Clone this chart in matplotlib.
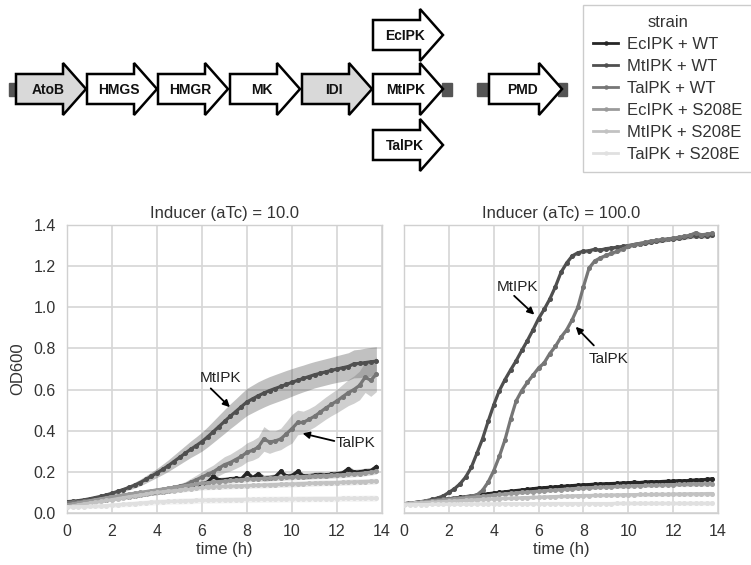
import matplotlib
matplotlib.use("Agg")
import matplotlib.pyplot as plt
from matplotlib.patches import Polygon, Rectangle
from matplotlib.lines import Line2D

plt.rcParams['font.family'] = ['Liberation Sans', 'DejaVu Sans']

# ---------------- data ----------------
TIME_H = [0.0, 0.25, 0.5, 0.75, 1.0, 1.25, 1.5, 1.75,
          2.0, 2.25, 2.5, 2.75, 3.0, 3.25, 3.5, 3.75,
          4.0, 4.25, 4.5, 4.75, 5.0, 5.25, 5.5, 5.75,
          6.0, 6.25, 6.5, 6.75, 7.0, 7.25, 7.5, 7.75,
          8.0, 8.25, 8.5, 8.75, 9.0, 9.25, 9.5, 9.75,
          10.0, 10.25, 10.5, 10.75, 11.0, 11.25, 11.5, 11.75,
          12.0, 12.25, 12.5, 12.75, 13.0, 13.25, 13.5, 13.75]

STRAINS = ["EcIPK + WT", "MtIPK + WT", "TalPK + WT",
           "EcIPK + S208E", "MtIPK + S208E", "TalPK + S208E"]
STRAIN_COLORS = ["#262626", "#4f4f4f", "#767676", "#9a9a9a", "#c2c2c2", "#e0e0e0"]
INDUCERS = [10.0, 100.0]

# Inducer (aTc) = 10.0
L_EC_WT = [.045, .047, .049, .052, .055, .058, .061, .065,
           .069, .072, .076, .080, .084, .088, .092, .096,
           .100, .104, .108, .112, .117, .122, .127, .133,
           .140, .150, .178, .160, .162, .165, .168, .166,
           .196, .172, .190, .170, .172, .176, .203, .178,
           .182, .202, .180, .181, .184, .186, .183, .188,
           .190, .195, .215, .198, .200, .204, .206, .225]
L_MT_WT = [.055, .057, .060, .064, .069, .075, .081, .088,
           .096, .105, .114, .124, .135, .148, .163, .179,
           .195, .212, .230, .250, .270, .290, .310, .328,
           .347, .370, .395, .420, .445, .470, .493, .517,
           .540, .555, .570, .583, .595, .605, .615, .625,
           .635, .645, .654, .663, .672, .679, .686, .693,
           .700, .706, .712, .725, .727, .731, .735, .738]
L_TA_WT = [.050, .052, .054, .057, .060, .063, .066, .069,
           .073, .077, .081, .085, .090, .094, .099, .104,
           .109, .114, .119, .124, .130, .137, .150, .162,
           .175, .188, .200, .218, .235, .245, .260, .275,
           .295, .305, .320, .360, .345, .350, .360, .385,
           .410, .440, .440, .455, .470, .490, .510, .528,
           .545, .565, .585, .600, .620, .660, .645, .675]
L_EC_S = [.040, .044, .049, .054, .059, .064, .069, .074,
          .079, .083, .088, .092, .096, .100, .104, .108,
          .112, .116, .120, .124, .128, .132, .136, .140,
          .144, .147, .150, .153, .155, .158, .160, .162,
          .164, .166, .167, .168, .170, .171, .172, .174,
          .175, .176, .177, .178, .180, .181, .182, .183,
          .185, .186, .188, .190, .192, .195, .198, .203]
L_MT_S = [.030, .034, .039, .044, .048, .052, .056, .061,
          .065, .070, .074, .079, .083, .087, .091, .096,
          .100, .103, .106, .109, .112, .115, .118, .121,
          .124, .126, .127, .128, .129, .130, .131, .132,
          .133, .134, .135, .136, .137, .138, .139, .140,
          .141, .142, .143, .144, .145, .146, .147, .147,
          .148, .149, .150, .151, .152, .153, .154, .155]
L_TA_S = [.030, .030, .031, .031, .032, .033, .034, .036,
          .038, .040, .042, .044, .046, .048, .050, .052,
          .054, .055, .056, .057, .058, .059, .060, .061,
          .062, .062, .063, .063, .064, .064, .065, .065,
          .066, .066, .066, .067, .067, .067, .068, .068,
          .068, .069, .069, .069, .070, .070, .070, .070,
          .070, .071, .071, .071, .071, .072, .072, .072]

# confidence half-widths (aTc = 10.0)
L_MT_WT_CI = [.004, .004, .005, .005, .006, .006, .007, .008,
              .009, .010, .011, .012, .014, .016, .018, .020,
              .022, .025, .028, .031, .034, .037, .040, .043,
              .046, .049, .052, .055, .058, .060, .062, .064,
              .066, .067, .068, .068, .068, .068, .068, .068,
              .067, .066, .065, .065, .064, .064, .064, .064,
              .065, .066, .067, .068, .069, .070, .070, .070]
L_TA_WT_CI = [.006, .006, .006, .006, .007, .007, .007, .007,
              .008, .008, .008, .009, .009, .009, .010, .010,
              .010, .011, .011, .012, .013, .015, .018, .022,
              .026, .030, .033, .036, .039, .041, .043, .045,
              .046, .048, .050, .060, .055, .050, .052, .060,
              .070, .060, .055, .052, .052, .053, .054, .055,
              .057, .060, .063, .066, .070, .074, .078, .085]
L_LOW_CI = [.006, .006, .006, .007, .007, .007, .008, .008,
            .008, .009, .009, .009, .010, .010, .010, .010,
            .011, .011, .011, .011, .012, .012, .012, .012,
            .012, .013, .013, .013, .013, .013, .013, .013,
            .013, .013, .013, .014, .014, .014, .014, .014,
            .014, .014, .014, .014, .014, .014, .014, .014,
            .014, .014, .014, .014, .014, .014, .014, .014]
L_TA_S_CI = [.008, .008, .009, .009, .010, .010, .011, .011,
             .012, .012, .012, .013, .013, .013, .013, .014,
             .014, .014, .014, .014, .015, .015, .015, .015,
             .015, .015, .015, .015, .015, .015, .015, .015,
             .015, .015, .015, .015, .015, .015, .015, .015,
             .015, .015, .015, .015, .015, .015, .015, .015,
             .015, .015, .015, .015, .015, .015, .015, .015]

# Inducer (aTc) = 100.0
R_EC_WT = [.045, .048, .051, .054, .057, .060, .063, .066,
           .069, .0725, .076, .0795, .083, .0865, .090, .0935,
           .097, .100, .103, .106, .109, .112, .115, .118,
           .121, .123, .125, .127, .129, .131, .133, .135,
           .137, .138, .140, .141, .142, .143, .144, .146,
           .147, .149, .148, .150, .152, .151, .153, .154,
           .155, .157, .156, .158, .160, .161, .163, .166]
R_MT_WT = [.045, .048, .051, .055, .060, .066, .073, .083,
           .100, .118, .142, .175, .222, .290, .360, .445,
           .525, .595, .648, .695, .740, .790, .838, .890,
           .945, .990, 1.040, 1.100, 1.170, 1.215, 1.250, 1.265,
           1.272, 1.275, 1.282, 1.278, 1.285, 1.288, 1.292, 1.296,
           1.300, 1.305, 1.310, 1.312, 1.318, 1.322, 1.325, 1.330,
           1.334, 1.336, 1.340, 1.345, 1.347, 1.346, 1.348, 1.350]
R_TA_WT = [.045, .048, .051, .054, .057, .060, .063, .066,
           .069, .072, .075, .078, .082, .088, .110, .150,
           .205, .275, .355, .455, .545, .595, .635, .670,
           .705, .730, .775, .810, .855, .890, .940, 1.000,
           1.100, 1.190, 1.225, 1.240, 1.252, 1.262, 1.272, 1.283,
           1.296, 1.305, 1.310, 1.315, 1.322, 1.325, 1.330, 1.332,
           1.336, 1.340, 1.345, 1.350, 1.362, 1.352, 1.355, 1.360]
R_EC_S = [.045, .047, .050, .052, .055, .057, .060, .062,
          .065, .067, .070, .072, .075, .078, .081, .084,
          .088, .090, .093, .095, .098, .100, .102, .104,
          .106, .108, .110, .112, .114, .116, .118, .120,
          .122, .123, .124, .126, .127, .128, .129, .130,
          .131, .132, .133, .134, .135, .136, .136, .137,
          .138, .139, .139, .140, .141, .141, .142, .143]
R_MT_S = [.045, .046, .048, .049, .051, .052, .054, .055,
          .057, .058, .060, .061, .063, .064, .066, .067,
          .069, .070, .071, .072, .073, .074, .075, .076,
          .077, .078, .079, .080, .081, .082, .083, .084,
          .085, .085, .086, .086, .087, .087, .088, .088,
          .089, .089, .090, .090, .090, .091, .091, .091,
          .092, .092, .092, .093, .093, .093, .094, .094]
R_TA_S = [.040, .040, .041, .041, .041, .042, .042, .042,
          .043, .043, .043, .043, .044, .044, .044, .044,
          .044, .045, .045, .045, .045, .045, .045, .045,
          .045, .045, .046, .046, .046, .046, .046, .046,
          .046, .046, .046, .046, .046, .046, .047, .047,
          .047, .047, .047, .047, .047, .047, .047, .047,
          .047, .047, .047, .047, .047, .047, .047, .047]

R_CI = [.004, .004, .004, .004, .005, .005, .005, .005,
        .006, .006, .006, .007, .007, .007, .008, .008,
        .008, .008, .008, .008, .008, .008, .008, .008,
        .008, .008, .008, .008, .009, .009, .009, .009,
        .009, .009, .009, .009, .009, .009, .009, .010,
        .010, .010, .010, .010, .010, .010, .010, .010,
        .010, .010, .011, .011, .011, .011, .011, .011]

PANELS = {
    10.0: ([L_EC_WT, L_MT_WT, L_TA_WT, L_EC_S, L_MT_S, L_TA_S],
           [L_LOW_CI, L_MT_WT_CI, L_TA_WT_CI, L_LOW_CI, L_LOW_CI, L_TA_S_CI]),
    100.0: ([R_EC_WT, R_MT_WT, R_TA_WT, R_EC_S, R_MT_S, R_TA_S],
            [R_CI, R_CI, R_CI, R_CI, R_CI, R_CI]),
}

GENES_ROW = ["AtoB", "HMGS", "HMGR", "MK", "IDI", "MtIPK"]
GENE_FILLS = ["#d9d9d9", "white", "white", "white", "#d9d9d9", "white"]
GENES_ALT = ["EcIPK", "TalPK"]
GENE_LAST = "PMD"

# ---------------- figure ----------------
W, H = 751, 565
fig = plt.figure(figsize=(W / 100, H / 100), dpi=100)

def px_axes(x0, y0, x1, y1):
    return fig.add_axes([x0 / W, 1 - y1 / H, (x1 - x0) / W, (y1 - y0) / H])

axL = px_axes(67, 225, 382, 513)
axR = px_axes(404, 225, 718, 513)

TXT = "#333333"
for ax, ind in zip([axL, axR], INDUCERS):
    ax.set_facecolor("white")
    series, cis = PANELS[ind]
    for name, col, ys, ci in zip(STRAINS, STRAIN_COLORS, series, cis):
        lo = [y - c for y, c in zip(ys, ci)]
        hi = [y + c for y, c in zip(ys, ci)]
        ax.fill_between(TIME_H, lo, hi, color=col, alpha=0.35, linewidth=0, zorder=2)
        ax.plot(TIME_H, ys, color=col, lw=2.3, marker='o', ms=2.6, label=name, zorder=3)
    ax.set_xlim(0, 14)
    ax.set_ylim(0, 1.4)
    ax.set_xticks(range(0, 15, 2))
    ax.set_yticks([0.0, 0.2, 0.4, 0.6, 0.8, 1.0, 1.2, 1.4])
    ax.grid(True, color="#d6d6d6", lw=1.2, zorder=0)
    ax.set_axisbelow(True)
    for s in ax.spines.values():
        s.set_color("#d0d0d0")
        s.set_linewidth(1.0)
    ax.tick_params(length=0, pad=8, labelsize=11.5, colors=TXT)
    ax.set_title(f"Inducer (aTc) = {ind}", fontsize=12, color=TXT, pad=5)
    ax.set_xlabel("time (h)", fontsize=12, color=TXT, labelpad=2)

axL.set_yticklabels([f"{v:.1f}" for v in axL.get_yticks()])
axL.set_ylabel("OD600", fontsize=12, color=TXT, labelpad=6)
axR.set_yticklabels([])

arrow_kw = dict(arrowstyle="-|>", color="black", lw=1.3, mutation_scale=10)
axL.annotate("", xy=(7.33, 0.505), xytext=(6.3, 0.615), arrowprops=arrow_kw)
axL.text(6.8, 0.655, "MtIPK", ha="center", va="center", fontsize=11, color="#222222")
axL.annotate("", xy=(10.35, 0.39), xytext=(12.0, 0.347), arrowprops=arrow_kw)
axL.text(12.8, 0.34, "TalPK", ha="center", va="center", fontsize=11, color="#222222")
axR.annotate("", xy=(5.9, 0.955), xytext=(4.82, 1.065), arrowprops=arrow_kw)
axR.text(5.05, 1.10, "MtIPK", ha="center", va="center", fontsize=11, color="#222222")
axR.annotate("", xy=(7.57, 0.915), xytext=(8.55, 0.805), arrowprops=arrow_kw)
axR.text(9.1, 0.75, "TalPK", ha="center", va="center", fontsize=11, color="#222222")

# legend
handles = [Line2D([], [], color=c, lw=2.0, marker='o', ms=2.2) for c in STRAIN_COLORS]
leg = fig.legend(handles, STRAINS, title="strain", loc="upper left",
                 bbox_to_anchor=(583 / W, 1 - 5 / H), fontsize=12, title_fontsize=12,
                 frameon=True, fancybox=False, edgecolor="#cccccc", framealpha=1,
                 handlelength=1.5, handletextpad=0.55, labelspacing=0.42,
                 borderpad=0.6, borderaxespad=0)
leg.get_frame().set_linewidth(1.0)
for t in leg.get_texts():
    t.set_color(TXT)
leg.get_title().set_color(TXT)

# gene diagram
dg = fig.add_axes([0, 0, 1, 1], facecolor="none")
dg.set_xlim(0, W)
dg.set_ylim(H, 0)
dg.axis("off")

def gene_arrow(x0, cy, label, fill, L=70, h1=15, h2=26, hl=23):
    pts = [(x0, cy - h1), (x0 + L - hl, cy - h1), (x0 + L - hl, cy - h2),
           (x0 + L, cy), (x0 + L - hl, cy + h2), (x0 + L - hl, cy + h1), (x0, cy + h1)]
    dg.add_patch(Polygon(pts, closed=True, facecolor=fill, edgecolor="black",
                         lw=1.8, joinstyle="miter", zorder=3))
    dg.text(x0 + 0.46 * L, cy + 1, label, ha="center", va="center",
            fontsize=10, fontweight="bold", color="#111111", zorder=4)

row_y = 89
dg.add_patch(Rectangle((9, row_y - 6.5), 9, 13, color="#555555", zorder=2))
dg.add_patch(Rectangle((442, row_y - 6.5), 10, 13, color="#555555", zorder=2))
starts = [16, 87, 158, 230, 302, 373]
for x0, g, f in zip(starts, GENES_ROW, GENE_FILLS):
    gene_arrow(x0, row_y, g, f)
gene_arrow(373, 35, GENES_ALT[0], "white")
gene_arrow(373, 145, GENES_ALT[1], "white")

dg.add_patch(Rectangle((477, row_y - 6.5), 14, 13, color="#555555", zorder=2))
dg.add_patch(Rectangle((558, row_y - 6.5), 9, 13, color="#555555", zorder=2))
gene_arrow(489, row_y, GENE_LAST, "white", L=73)

fig.savefig("out.png", dpi=100)
